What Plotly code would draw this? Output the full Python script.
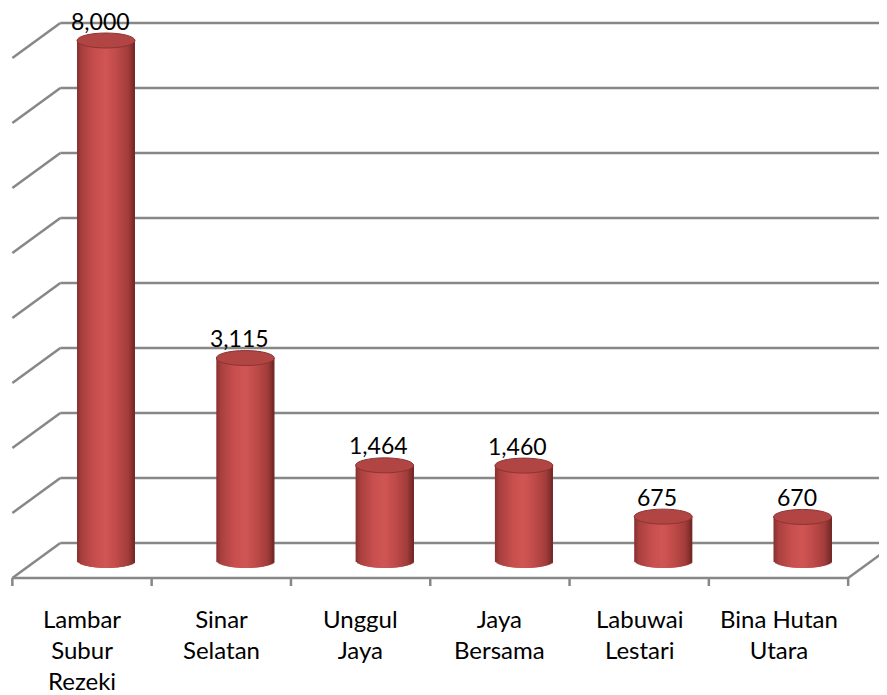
import numpy as np
import plotly.graph_objects as go

# ---- data ----
categories = ["Lambar<br>Subur<br>Rezeki", "Sinar<br>Selatan", "Unggul<br>Jaya",
              "Jaya<br>Bersama", "Labuwai<br>Lestari", "Bina Hutan<br>Utara"]
values = [8000, 3115, 1464, 1460, 675, 670]
value_labels = ["8,000", "3,115", "1,464", "1,460", "675", "670"]
grid_values = [0, 1000, 2000, 3000, 4000, 5000, 6000, 7000, 8000]

# ---- geometry (pseudo-3D) ----
OFF = 8                 # page body margin
W, H = 887 - OFF, 695 - OFF
PX_CAT = 139.3          # pixels per category
PX_VAL = 0.065          # pixels per value unit
X0 = -(106 - OFF) / PX_CAT
Y0 = -(H - (560.5 - OFF)) / PX_VAL
XR = [X0, X0 + W / PX_CAT]
YR = [Y0, Y0 + H / PX_VAL]
DX = 24 / PX_CAT        # half depth in x
DY = 17.5 / PX_VAL      # half depth in y
A = 29 / PX_CAT         # cylinder half width
B = 7.5 / PX_VAL        # cylinder ellipse half height

GRID = "#878787"
FONT = "Lato"

def grad(t):
    stops = [(0.0, (0x86, 0x30, 0x2f)), (0.08, (0xa8, 0x40, 0x3f)), (0.3, (0xc6, 0x4f, 0x4d)),
             (0.5, (0xd0, 0x56, 0x54)), (0.7, (0xbd, 0x4a, 0x48)), (0.88, (0xa2, 0x3d, 0x3b)),
             (1.0, (0x72, 0x27, 0x26))]
    for (t0, c0), (t1, c1) in zip(stops[:-1], stops[1:]):
        if t0 <= t <= t1:
            f = (t - t0) / (t1 - t0)
            c = [round(c0[j] + f * (c1[j] - c0[j])) for j in range(3)]
            return "rgb(%d,%d,%d)" % tuple(c)
    return "rgb(114,39,38)"

fig = go.Figure()
xs = list(range(len(values)))

# cylinder bodies as vertical strips
N = 40
w = 2 * A / N
for k in range(N):
    u = -A + (k + 0.5) * w
    e = B * np.sqrt(max(0.0, 1 - (u / A) ** 2))
    ww = w * 2 if k < N - 1 else w
    fig.add_trace(go.Bar(
        x=xs, y=[v + e for v in values], base=[-e] * len(values),
        width=[ww] * len(values), offset=[u - w / 2] * len(values),
        marker=dict(color=grad((k + 0.5) / N), line=dict(width=0)),
        hoverinfo="skip", showlegend=False))

shapes = []
# back wall gridlines and left side lines
for g in grid_values:
    shapes.append(dict(type="line", xref="x", yref="y", x0=-0.5 + DX, x1=XR[1] + 1, y0=g + DY, y1=g + DY,
                       line=dict(color=GRID, width=2.5), layer="below"))
    shapes.append(dict(type="line", xref="x", yref="y", x0=-0.5 + DX, x1=-0.5 - DX, y0=g + DY, y1=g - DY,
                       line=dict(color=GRID, width=2.5), layer="below"))
# floor front edge and right side
n = len(values)
shapes.append(dict(type="line", xref="x", yref="y", x0=-0.5 - DX, x1=n - 0.5 - DX, y0=-DY, y1=-DY,
                   line=dict(color=GRID, width=2.5), layer="below"))
shapes.append(dict(type="line", xref="x", yref="y", x0=n - 0.5 - DX, x1=n - 0.5 + DX, y0=-DY, y1=DY,
                   line=dict(color=GRID, width=2.5), layer="below"))
# tick marks
for k in range(n + 1):
    shapes.append(dict(type="line", xref="x", yref="y", x0=k - 0.5 - DX, x1=k - 0.5 - DX,
                       y0=-DY, y1=-DY - 8 / PX_VAL, line=dict(color=GRID, width=2.5), layer="below"))
# cylinder caps
for i, v in enumerate(values):
    shapes.append(dict(type="circle", xref="x", yref="y", x0=i - A, x1=i + A, y0=v - B, y1=v + B,
                       fillcolor="#b04543", line=dict(color="#8c3432", width=1), layer="above"))

annotations = []
for i, (v, lab) in enumerate(zip(values, value_labels)):
    annotations.append(dict(x=i - 6 / PX_CAT, y=v, xref="x", yref="y", text=lab, showarrow=False,
                            yanchor="bottom", yshift=5, borderpad=0,
                            font=dict(family=FONT, size=23, color="black")))
for i, c in enumerate(categories):
    annotations.append(dict(x=i - DX, y=-(602 - 560.5) / PX_VAL, xref="x", yref="y", text=c,
                            showarrow=False, yanchor="top", align="center",
                            font=dict(family=FONT, size=24, color="black")))

fig.update_layout(
    width=W, height=H, margin=dict(l=0, r=0, t=0, b=0),
    paper_bgcolor="white", plot_bgcolor="white",
    barmode="overlay", showlegend=False,
    xaxis=dict(range=XR, visible=False, fixedrange=True),
    yaxis=dict(range=YR, visible=False, fixedrange=True),
    shapes=shapes, annotations=annotations,
)
fig.write_html("out.html")
